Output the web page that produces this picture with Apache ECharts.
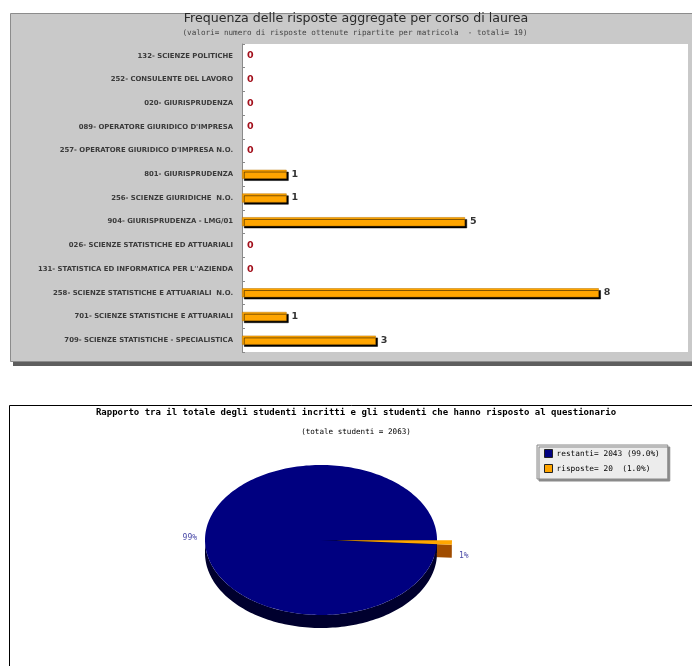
<!DOCTYPE html>
<html><head><meta charset="utf-8">
<script src="https://cdn.jsdelivr.net/npm/echarts@6/dist/echarts.min.js"></script>
<style>html,body{margin:0;padding:0;background:#fff}#c{width:692px;height:666px}</style>
</head><body><div id="c"></div>
<script>
// ---------- data ----------
const barTitle = 'Frequenza delle risposte aggregate per corso di laurea';
const barSubtitle = '(valori= numero di risposte ottenute ripartite per matricola  - totali= 19)';
const categories = [
  "132- SCIENZE POLITICHE",
  "252- CONSULENTE DEL LAVORO",
  "020- GIURISPRUDENZA",
  "089- OPERATORE GIURIDICO D'IMPRESA",
  "257- OPERATORE GIURIDICO D'IMPRESA N.O.",
  "801- GIURISPRUDENZA",
  "256- SCIENZE GIURIDICHE  N.O.",
  "904- GIURISPRUDENZA - LMG/01",
  "026- SCIENZE STATISTICHE ED ATTUARIALI",
  "131- STATISTICA ED INFORMATICA PER L''AZIENDA",
  "258- SCIENZE STATISTICHE E ATTUARIALI  N.O.",
  "701- SCIENZE STATISTICHE E ATTUARIALI",
  "709- SCIENZE STATISTICHE - SPECIALISTICA"
];
const counts = [0, 0, 0, 0, 0, 1, 1, 5, 0, 0, 8, 1, 3];

const pieTitle = 'Rapporto tra il totale degli studenti incritti e gli studenti che hanno risposto al questionario';
const pieSubtitle = '(totale studenti = 2063)';
const pieNames = ['restanti', 'risposte'];
const pieValues = [2043, 20];

// ---------- styles / layout ----------
const PIE = {cx: 321, cy: 540, rx: 116, ry: 75, depth: 13};
const pieTop = ['#000080', '#ffa500'];
const pieSide = ['#00002e', '#a04c00'];
const pieExplode = [0, 15];

const total = pieValues.reduce((a, b) => a + b, 0);
function pct(v) { return v / total * 100; }
function angles(i) {
  let s = 0;
  for (let k = 0; k < i; k++) s += pieValues[k];
  return [s / total * 2 * Math.PI, (s + pieValues[i]) / total * 2 * Math.PI];
}
function pt(cx, cy, th, dy) {
  return [cx + PIE.rx * Math.cos(th), cy - PIE.ry * Math.sin(th) + (dy || 0)];
}
function arc(cx, cy, a0, a1, dy) {
  const n = Math.max(2, Math.ceil((a1 - a0) / (Math.PI / 120)));
  const out = [];
  for (let j = 0; j <= n; j++) out.push(pt(cx, cy, a0 + (a1 - a0) * j / n, dy));
  return out;
}

function renderSlice(i) {
  return function (params, api) {
    const [a0, a1] = angles(i);
    const mid = (a0 + a1) / 2;
    const ex = pieExplode[i];
    const cx = PIE.cx + ex * Math.cos(mid);
    const cy = PIE.cy - ex * Math.sin(mid) * PIE.ry / PIE.rx;
    const d = PIE.depth;
    const exploded = ex > 0;
    const sideZ = exploded ? 1 : 2;
    const topZ = exploded ? 4 : 3;
    const children = [];
    const lo = Math.max(a0, Math.PI), hi = Math.min(a1, 2 * Math.PI);
    if (hi > lo) {
      const top = arc(cx, cy, lo, hi, 0);
      const bot = arc(cx, cy, lo, hi, d).reverse();
      children.push({type: 'polygon', shape: {points: top.concat(bot)}, style: {fill: pieSide[i]}, z2: sideZ});
    }
    if (Math.cos(a0) > 0) {
      const p = pt(cx, cy, a0, 0);
      children.push({type: 'polygon', shape: {points: [[cx, cy], p, [p[0], p[1] + d], [cx, cy + d]]}, style: {fill: pieSide[i]}, z2: sideZ});
    }
    if (Math.cos(a1) < 0) {
      const p = pt(cx, cy, a1, 0);
      children.push({type: 'polygon', shape: {points: [[cx, cy], p, [p[0], p[1] + d], [cx, cy + d]]}, style: {fill: pieSide[i]}, z2: sideZ});
    }
    children.push({type: 'polygon', shape: {points: [[cx, cy]].concat(arc(cx, cy, a0, a1, 0))}, style: {fill: pieTop[i]}, z2: topZ});
    const lp = pt(cx, cy, mid, Math.sin(mid) < 0 ? d : 0);
    const left = Math.cos(mid) < 0;
    children.push({
      type: 'text', z2: 6,
      style: {
        x: lp[0] + (left ? -8 : 7), y: lp[1],
        text: Math.round(pct(api.value(0))) + '%',
        fill: '#4a4aa8', font: '8px "DejaVu Sans Mono"',
        align: left ? 'right' : 'left', verticalAlign: 'middle'
      }
    });
    return {type: 'group', children};
  };
}

const pieSeries = pieNames.map((n, i) => ({
  type: 'custom', name: n, coordinateSystem: 'none', silent: true,
  itemStyle: {color: pieTop[i]},
  data: [[pieValues[i]]],
  renderItem: renderSlice(i)
}));

const barData = counts.map(v => v > 0 ? v : {value: v, itemStyle: {borderWidth: 0, shadowOffsetX: 0, shadowOffsetY: 0, opacity: 0}, label: {opacity: 1}});

const chart = echarts.init(document.getElementById('c'), null, {renderer: 'canvas'});
chart.setOption({
  animation: false,
  backgroundColor: '#fff',
  graphic: [
    {type: 'rect', z: -20, shape: {x: 13, y: 16, width: 700, height: 350}, style: {fill: '#5e5e5e'}},
    {type: 'rect', z: -19, shape: {x: 10.5, y: 13.5, width: 700, height: 348}, style: {fill: '#c9c9c9', stroke: '#8c8c8c', lineWidth: 1}},
    {type: 'rect', z: -19, shape: {x: 9.5, y: 405.5, width: 700, height: 300}, style: {fill: '#fff', stroke: '#000', lineWidth: 1}}
  ],
  title: [
    {text: barTitle, left: 356, top: 12, textAlign: 'center', padding: 0,
     textStyle: {fontFamily: 'DejaVu Sans', fontSize: 12.6, fontWeight: 'normal', color: '#2a2a2a'}},
    {text: barSubtitle, left: 355, top: 29, textAlign: 'center', padding: 0,
     textStyle: {fontFamily: 'DejaVu Sans Mono', fontSize: 7.65, fontWeight: 'normal', color: '#444'}},
    {text: pieTitle, left: 356, top: 408, textAlign: 'center', padding: 0,
     textStyle: {fontFamily: 'DejaVu Sans Mono', fontSize: 9, fontWeight: 'bold', color: '#000'}},
    {text: pieSubtitle, left: 356, top: 428, textAlign: 'center', padding: 0,
     textStyle: {fontFamily: 'DejaVu Sans Mono', fontSize: 7.6, fontWeight: 'normal', color: '#000'}}
  ],
  legend: {
    data: pieNames, orient: 'vertical', left: 537, top: 445,
    padding: [4, 8, 6, 7], itemGap: 6, itemWidth: 8, itemHeight: 8, icon: 'rect',
    backgroundColor: '#ececec', borderColor: '#8a8a8a', borderWidth: 1,
    shadowColor: '#8a8a8a', shadowOffsetX: 2, shadowOffsetY: 2, shadowBlur: 0,
    itemStyle: {borderColor: '#222', borderWidth: 1},
    selectedMode: false,
    textStyle: {fontFamily: 'DejaVu Sans Mono', fontSize: 7.8, color: '#000', padding: [0, 0, 0, -1]},
    formatter: function (name) {
      const i = pieNames.indexOf(name);
      const p = '(' + pct(pieValues[i]).toFixed(1) + '%)';
      return name + '= ' + pieValues[i] + ' ' + p.padStart(7, ' ');
    }
  },
  grid: {left: 242, right: 4, top: 44, height: 308, show: true, backgroundColor: '#fff', borderWidth: 0},
  xAxis: {type: 'value', min: 0, max: 10, show: false},
  yAxis: {
    type: 'category', data: categories, inverse: true,
    axisLine: {lineStyle: {color: '#8a8a8a', width: 1}},
    axisTick: {show: true, inside: true, length: 3, lineStyle: {color: '#8a8a8a'}},
    axisLabel: {fontFamily: 'DejaVu Sans', fontSize: 6.9, fontWeight: 'bold', color: '#3a3a3a', margin: 9}
  },
  series: [{
    type: 'bar', data: barData, barWidth: 9, silent: true,
    itemStyle: {color: '#ffa500', borderColor: '#b87400', borderWidth: 0.5,
                shadowColor: '#000', shadowOffsetX: 2, shadowOffsetY: 2, shadowBlur: 0},
    label: {
      show: true, position: 'right', distance: 5,
      formatter: p => p.value === 0 ? '{z|0}' : '{n|' + p.value + '}',
      rich: {
        z: {fontFamily: 'DejaVu Sans', fontSize: 9.5, fontWeight: 'bold', color: '#a3101c'},
        n: {fontFamily: 'DejaVu Sans', fontSize: 9.5, fontWeight: 'bold', color: '#333'}
      }
    }
  }].concat(pieSeries)
});
</script>
</body></html>
